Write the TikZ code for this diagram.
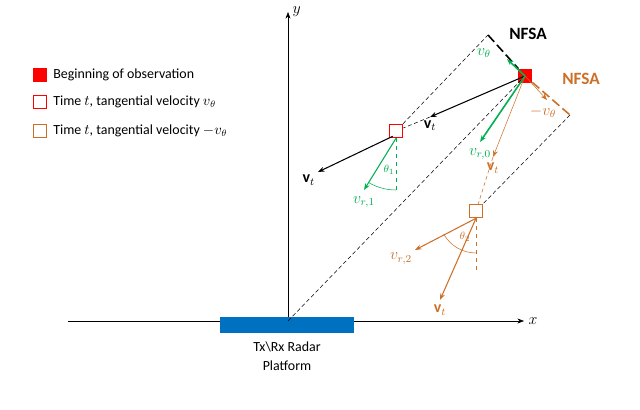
\documentclass[tikz,border=0pt]{standalone}
\usepackage{fontspec}
\setmainfont{Carlito}
\usetikzlibrary{positioning}
\usetikzlibrary{arrows.meta}
\definecolor{myred}{RGB}{255,0,0}
\definecolor{myorange}{RGB}{204,112,40}
\definecolor{mygreen}{RGB}{0,176,80}
\definecolor{myblue}{RGB}{0,112,192}
\begin{document}
\begin{tikzpicture}[
  x=0.0265cm, y=-0.0265cm,
  font=\fontsize{10.5}{12}\selectfont,
  sq/.style={draw, minimum size=10pt, inner sep=0pt, line width=1pt},
  vec/.style={-{Stealth[length=5pt]}, thick},
  dsh/.style={densely dashed, thin},
  mlbl/.style={font=\fontsize{12}{14}\selectfont},
  lbl/.style={inner sep=1pt}
]
\useasboundingbox (0,0) rectangle (640,410);

% Axes
\coordinate (O) at (288,321);
\coordinate (xend) at (524,321);
\coordinate (xstart) at (68,321);
\coordinate (yend) at (288,12);
\draw[-{Stealth[length=5pt]}] (xstart) -- (xend) node[right, mlbl] {$x$};
\draw[-{Stealth[length=5pt]}] (O) -- (yend) node[right, mlbl] {$y$};

% Radar platform
\node[fill=myblue, minimum width=3.55cm, minimum height=12pt, inner sep=0pt] (radar) at (287,325) {};
\node[align=center, below=3pt of radar] (radarlbl) {Tx\textbackslash Rx Radar\\[2pt]Platform};

% Squares
\node[sq, fill=myred, draw=myred] (s0) at (525,76) {};
\node[sq, draw=myred, fill=white] (s1) at (396,131) {};
\node[sq, draw=myorange, fill=white] (s2) at (476,211) {};

% NFSA box corners
\coordinate (c1) at (488,35);
\coordinate (c2) at (570,115);
\draw[dsh] (O) -- (s0.center);
\draw[dsh] (s1) -- (c1);
\draw[dsh] (c2) -- (s2);
\draw[line width=1.2pt, dash pattern=on 7pt off 3pt] (c1) -- (s0);
\draw[line width=1.2pt, myorange, dash pattern=on 7pt off 3pt] (s0) -- (c2);
\node[font=\bfseries\fontsize{13}{15}\selectfont, lbl] at (528,34) {NFSA};
\node[font=\bfseries\fontsize{13}{15}\selectfont, lbl, text=myorange] at (581,79) {NFSA};

% Velocities at start
\coordinate (vt0) at (430,117);
\coordinate (vto) at (493,157);
\draw[vec] (s0.center) -- (vt0) node[below=-1pt, pos=1, mlbl] {$\mathbf{v}_t$};
\draw[dsh] (vt0) -- (s1);
\draw[vec, myorange, thin] (s0.center) -- (vto) node[below=1pt, mlbl] {$\mathbf{v}_t$};
\draw[dsh, myorange] (vto) -- (s2);
\draw[vec, mygreen, line width=1.2pt] (s0.center) -- (480,142) node[below=1pt, mlbl] {$v_{r,0}$};
\draw[vec, mygreen, line width=1.2pt] (s0.center) -- (507,59) coordinate (vth);
\node[text=mygreen, mlbl] at (484,53) {$v_\theta$};
\draw[vec, myorange, thin] (s0.center) -- (547,100);
\node[text=myorange, mlbl] at (543,112) {$-v_\theta$};

% Time t, v_theta
\draw[vec] (s1.south west) ++(4,-2) -- (318,172) node[below left=-2pt, mlbl] {$\mathbf{v}_t$};
\draw[vec, mygreen] (s1.south) -- (364,190) node[below=1pt, mlbl] {$v_{r,1}$};
\draw[dashed, mygreen] (s1.south) -- (396,190);
\draw[mygreen] (396,190) arc[start angle=90, end angle=121, radius=54];
\node[text=mygreen, font=\footnotesize] at (389,170) {$\theta_1$};

% Time t, -v_theta
\draw[vec, myorange] (s2.south) -- (440,300) node[below, mlbl] {$\mathbf{v}_t$};
\draw[vec, myorange] (s2.south) -- (415,250) node[below left=-2pt, mlbl] {$v_{r,2}$};
\draw[dashed, myorange] (s2.south) -- (476,270);
\draw[myorange] (476,253) arc[start angle=90, end angle=151, radius=37];
\node[text=myorange, font=\footnotesize] at (465,237) {$\theta_2$};

% Legend
\node[sq, fill=myred, draw=myred] (l0) at (40,75) {};
\node[right=1pt of l0] {Beginning of observation};
\node[sq, draw=myred] (l1) at (40,102) {};
\node[right=1pt of l1] {Time $t$, tangential velocity $v_\theta$};
\node[sq, draw=myorange] (l2) at (40,131) {};
\node[right=1pt of l2] {Time $t$, tangential velocity $-v_\theta$};
\end{tikzpicture}
\end{document}
